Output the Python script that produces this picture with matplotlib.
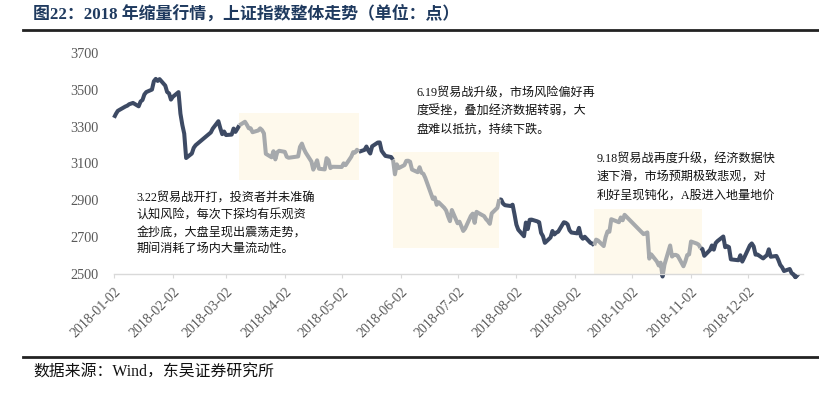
import matplotlib
matplotlib.use('Agg')
import matplotlib.pyplot as plt
import matplotlib.patches as mpatches
import pandas as pd

# ---------------- data ----------------
jan = [("01-02", 3348.33), ("01-03", 3369.11), ("01-04", 3385.71), ("01-05", 3391.75), ("01-08", 3409.48),
       ("01-09", 3413.90), ("01-10", 3421.83), ("01-11", 3425.34), ("01-12", 3428.94), ("01-15", 3410.49),
       ("01-16", 3436.59), ("01-17", 3444.67), ("01-18", 3474.75), ("01-19", 3487.86), ("01-22", 3501.36),
       ("01-23", 3546.50), ("01-24", 3559.47), ("01-25", 3548.31), ("01-26", 3558.13), ("01-29", 3523.00),
       ("01-30", 3488.01), ("01-31", 3480.83)]
feb = [("02-01", 3447.02), ("02-02", 3462.08), ("02-05", 3487.50), ("02-06", 3370.65), ("02-07", 3309.26),
       ("02-08", 3262.05), ("02-09", 3129.85), ("02-12", 3154.13), ("02-13", 3184.96), ("02-14", 3199.16),
       ("02-22", 3268.56), ("02-23", 3289.02), ("02-26", 3329.57), ("02-27", 3292.07), ("02-28", 3259.41)]
mar = [("03-01", 3273.75), ("03-02", 3254.53), ("03-05", 3256.93), ("03-06", 3289.64), ("03-07", 3271.67),
       ("03-08", 3288.41), ("03-09", 3307.17), ("03-12", 3326.70), ("03-13", 3310.24), ("03-14", 3291.38),
       ("03-15", 3291.11), ("03-16", 3269.88), ("03-19", 3279.25), ("03-20", 3290.64), ("03-21", 3280.95),
       ("03-22", 3263.48), ("03-23", 3152.76), ("03-26", 3133.72), ("03-27", 3166.65), ("03-28", 3122.29),
       ("03-29", 3160.53), ("03-30", 3168.90)]
apr = [("04-02", 3163.18), ("04-03", 3136.63), ("04-04", 3131.11), ("04-09", 3138.29), ("04-10", 3190.32),
       ("04-11", 3208.08), ("04-12", 3180.16), ("04-13", 3159.05), ("04-16", 3110.65), ("04-17", 3066.80),
       ("04-18", 3091.40), ("04-19", 3117.38), ("04-20", 3071.54), ("04-23", 3068.01), ("04-24", 3128.93),
       ("04-25", 3117.97), ("04-26", 3075.03), ("04-27", 3082.23)]
may = [("05-02", 3081.18), ("05-03", 3100.86), ("05-04", 3091.03), ("05-07", 3136.64), ("05-08", 3161.50),
       ("05-09", 3159.15), ("05-10", 3174.41), ("05-11", 3163.26), ("05-14", 3174.03), ("05-15", 3192.12),
       ("05-16", 3169.57), ("05-17", 3154.28), ("05-18", 3193.30), ("05-21", 3213.84), ("05-22", 3214.35),
       ("05-23", 3168.96), ("05-24", 3154.65), ("05-25", 3141.30), ("05-28", 3135.08), ("05-29", 3120.46),
       ("05-30", 3041.44), ("05-31", 3095.47)]
jun = [("06-01", 3075.14), ("06-04", 3091.19), ("06-05", 3114.21), ("06-06", 3115.18), ("06-07", 3109.50),
       ("06-08", 3067.15), ("06-11", 3052.78), ("06-12", 3079.80), ("06-13", 3049.80), ("06-14", 3044.16),
       ("06-15", 3021.90), ("06-19", 2907.82), ("06-20", 2915.73), ("06-21", 2875.81), ("06-22", 2889.76),
       ("06-25", 2859.34), ("06-26", 2844.51), ("06-27", 2813.18), ("06-28", 2786.90), ("06-29", 2847.42)]
jul = [("07-02", 2775.56), ("07-03", 2784.02), ("07-04", 2759.13), ("07-05", 2733.88), ("07-06", 2747.23),
       ("07-09", 2815.11), ("07-10", 2827.63), ("07-11", 2777.77), ("07-12", 2837.66), ("07-13", 2831.18),
       ("07-16", 2814.04), ("07-17", 2798.13), ("07-18", 2787.26), ("07-19", 2772.55), ("07-20", 2829.27),
       ("07-23", 2859.54), ("07-24", 2905.56), ("07-25", 2903.65), ("07-26", 2882.23), ("07-27", 2873.59),
       ("07-30", 2869.05), ("07-31", 2876.40)]
aug = [("08-01", 2824.53), ("08-02", 2768.02), ("08-03", 2740.44), ("08-06", 2705.16), ("08-07", 2779.37),
       ("08-08", 2744.07), ("08-09", 2794.38), ("08-10", 2795.31), ("08-13", 2785.87), ("08-14", 2780.96),
       ("08-15", 2723.26), ("08-16", 2705.50), ("08-17", 2668.97), ("08-20", 2698.47), ("08-21", 2733.57),
       ("08-22", 2714.61), ("08-23", 2724.62), ("08-24", 2729.43), ("08-27", 2780.90), ("08-28", 2777.98),
       ("08-29", 2769.30), ("08-30", 2737.74), ("08-31", 2725.25)]
sep = [("09-03", 2720.73), ("09-04", 2750.58), ("09-05", 2704.34), ("09-06", 2691.59), ("09-07", 2702.30),
       ("09-10", 2669.48), ("09-11", 2664.80), ("09-12", 2656.11), ("09-13", 2686.58), ("09-14", 2681.64),
       ("09-17", 2651.79), ("09-18", 2699.95), ("09-19", 2730.85), ("09-20", 2729.24), ("09-21", 2797.49),
       ("09-25", 2781.14), ("09-26", 2806.81), ("09-27", 2791.77), ("09-28", 2821.35)]
octo = [("10-08", 2716.51), ("10-09", 2721.01), ("10-10", 2725.84), ("10-11", 2583.46), ("10-12", 2606.91),
        ("10-15", 2568.10), ("10-16", 2546.33), ("10-17", 2561.61), ("10-18", 2486.42), ("10-19", 2550.47),
        ("10-22", 2654.88), ("10-23", 2594.83), ("10-24", 2603.30), ("10-25", 2603.80), ("10-26", 2598.85),
        ("10-29", 2542.10), ("10-30", 2568.05), ("10-31", 2602.78)]
nov = [("11-01", 2606.24), ("11-02", 2676.48), ("11-05", 2665.43), ("11-06", 2659.36), ("11-07", 2641.34),
       ("11-08", 2635.63), ("11-09", 2598.87), ("11-12", 2630.52), ("11-13", 2654.88), ("11-14", 2632.24),
       ("11-15", 2668.17), ("11-16", 2679.11), ("11-19", 2703.51), ("11-20", 2645.43), ("11-21", 2651.51),
       ("11-22", 2645.85), ("11-23", 2579.48), ("11-26", 2575.81), ("11-27", 2574.68), ("11-28", 2601.74),
       ("11-29", 2567.44), ("11-30", 2588.19)]
dec = [("12-03", 2654.80), ("12-04", 2665.96), ("12-05", 2649.81), ("12-06", 2605.18), ("12-07", 2605.89),
       ("12-10", 2584.58), ("12-11", 2594.09), ("12-12", 2602.15), ("12-13", 2634.05), ("12-14", 2593.74),
       ("12-17", 2597.97), ("12-18", 2576.65), ("12-19", 2549.56), ("12-20", 2536.27), ("12-21", 2516.25),
       ("12-24", 2527.01), ("12-25", 2504.82), ("12-26", 2498.29), ("12-27", 2483.09), ("12-28", 2493.90)]

# highlighted (grey) periods of the index line
grey_periods = [("2018-03-09", "2018-05-11"), ("2018-05-29", "2018-07-24"), ("2018-09-12", "2018-11-07")]
# shaded boxes: (start, end, low, high)
boxes = [("2018-03-09", "2018-05-11", 3008, 3375),
         ("2018-05-29", "2018-07-24", 2641, 3162),
         ("2018-09-12", "2018-11-08", 2500, 2854)]

tick_labels = ["2018-%02d-02" % m for m in range(1, 13)]
y_ticks = [2500, 2700, 2900, 3100, 3300, 3500, 3700]

title = "图22：2018 年缩量行情，上证指数整体走势（单位：点）"
source = "数据来源：Wind，东吴证券研究所"
notes = [
    ["3.22贸易战开打，投资者并未准确", "认知风险，每次下探均有乐观资", "金抄底，大盘呈现出震荡走势，", "期间消耗了场内大量流动性。"],
    ["6.19贸易战升级，市场风险偏好再", "度受挫，叠加经济数据转弱，大", "盘难以抵抗，持续下跌。"],
    ["9.18贸易战再度升级，经济数据快", "速下滑，市场预期极致悲观，对", "利好呈现钝化，A股进入地量地价"],
]

# ---------------- build series ----------------
rows = jan + feb + mar + apr + may + jun + jul + aug + sep + octo + nov + dec
s = pd.Series([v for _, v in rows], index=pd.to_datetime(["2018-" + d for d, _ in rows]))

# dark segments = complement of grey periods (sharing boundary points)
bounds = [s.index[0]]
for p0, p1 in grey_periods:
    bounds += [pd.Timestamp(p0), pd.Timestamp(p1)]
bounds.append(s.index[-1])
dark_periods = [(bounds[i], bounds[i + 1]) for i in range(0, len(bounds), 2)]

# ---------------- figure ----------------
W, H = 820, 393
fig = plt.figure(figsize=(W / 100, H / 100), dpi=100)
SERIF = ['Liberation Serif', 'Noto Sans CJK SC']

ax = fig.add_axes([114 / W, 1 - 274 / H, (803 - 114) / W, (274 - 53) / H])

dark = '#3D4A64'
grey = '#A6A9AC'
cream = '#FEF9EC'
LW = 2.9

for b0, b1, lo, hi in boxes:
    ax.fill_between([pd.Timestamp(b0), pd.Timestamp(b1)], lo, hi, color=cream, lw=0, zorder=1)

for p0, p1 in dark_periods:
    seg = s[p0:p1]
    ax.plot(seg.index, seg.values, color=dark, lw=LW, solid_joinstyle='round',
            solid_capstyle='butt', zorder=3, clip_on=False)
for p0, p1 in grey_periods:
    seg = s[p0:p1]
    ax.plot(seg.index, seg.values, color=grey, lw=LW, solid_joinstyle='round',
            solid_capstyle='butt', zorder=4)

# the full dark series only shows where it dips below the axis floor
under, = ax.plot(s.index, s.values, color=dark, lw=LW, zorder=2, clip_on=True)
under.set_clip_path(mpatches.Rectangle((0, -0.05), 1, 0.05, transform=ax.transAxes))

ax.set_xlim(pd.Timestamp("2018-01-02"), pd.Timestamp("2018-12-31"))
ax.set_ylim(2500, 3700)
ax.set_yticks(y_ticks)
ax.set_yticklabels([str(v) for v in y_ticks], fontfamily=SERIF, fontsize=10.3, color='#595959')
ax.set_xticks(pd.to_datetime(tick_labels))
ax.set_xticklabels(tick_labels, rotation=45, ha='right', va='top', rotation_mode='anchor',
                   fontfamily=SERIF, fontsize=10, color='#595959')
for sp in ['top', 'right', 'left']:
    ax.spines[sp].set_visible(False)
ax.spines['bottom'].set_color('#D9D9D9')
ax.spines['bottom'].set_linewidth(1.0)
ax.tick_params(axis='y', length=0, pad=11)
ax.tick_params(axis='x', length=3, color='#D9D9D9', pad=5)
ax.set_facecolor('none')

# title and rules
fig.text(33 / W, 1 - 14 / H, title, fontsize=12.2, fontweight='bold', color='#1F3A5F',
         fontfamily=SERIF, va='center', ha='left')
fig.add_artist(plt.Line2D([23 / W, 1], [1 - 29.5 / H] * 2, color='#222222', lw=2.0))
fig.add_artist(plt.Line2D([23 / W, 1], [1 - 357 / H] * 2, color='#222222', lw=2.0))
fig.text(33 / W, 1 - 373 / H, source, fontsize=11.4, color='#111111', fontfamily=SERIF,
         va='center', ha='left')

# annotations
note_pos = [(136.7, 198.3, 17.0), (416.7, 93.3, 18.2), (596.7, 159.3, 17.9)]
for lines, (x0, y0, dy) in zip(notes, note_pos):
    for i, ln in enumerate(lines):
        fig.text(x0 / W, 1 - (y0 + i * dy) / H, ln, fontsize=8.7, color='#111111',
                 fontfamily=SERIF, va='center', ha='left')

fig.savefig('out.png', dpi=100)
